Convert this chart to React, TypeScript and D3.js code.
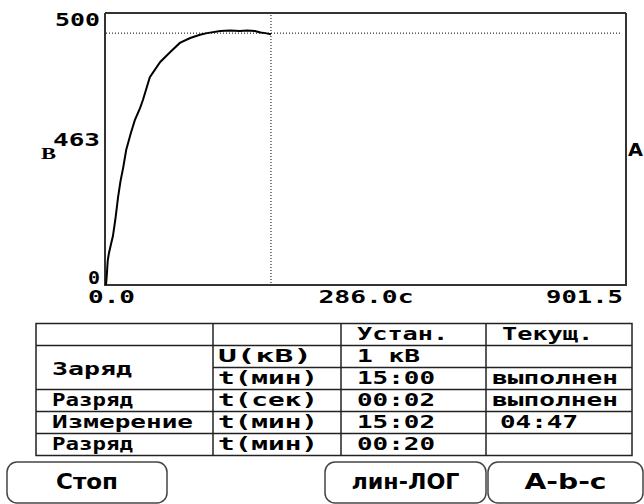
import React from "react";
import * as d3 from "d3";

// ---------- data ----------
const timeSec = [0, 1.5, 3, 5, 8, 12, 16, 21, 25, 30, 35, 43, 50, 59, 64, 76, 94, 111, 128, 146, 163, 175, 198, 215, 232, 245, 258, 268, 276, 286];
const voltage = [0, 20, 45, 58, 72, 90, 119, 162, 190, 217, 248, 279, 303, 325, 340, 382, 410, 428, 445, 454, 460, 463, 467, 468, 467, 468, 467, 464, 463, 461];

const timeDomain = [0, 901.5];
const voltDomain = [0, 500];
const cursorTime = 286.0;
const cursorVolt = 463;

const xTickLabels = ["0.0", "286.0c", "901.5"];
const yTickLabels = ["0", "463", "500"];
const leftUnit = "В";
const rightUnit = "А";

const headerRow = ["", "", "Устан.", "Текущ."];
const stageNames = ["Заряд", "Разряд", "Измерение", "Разряд"];
const stageRowSpans = [2, 1, 1, 1];
const paramUnits = ["U(кВ)", "t(мин)", "t(сек)", "t(мин)", "t(мин)"];
const setValues = ["1 кВ", "15:00", "00:02", "15:02", "00:20"];
const currentValues = ["", "выполнен", "выполнен", " 04:47", ""];
const buttonLabels = ["Стоп", "лин-ЛОГ", "A-b-c"];

// ---------- layout ----------
const W = 644;
const H = 504;
const plot = { left: 106, right: 626, top: 13, bottom: 285 };
const tableCols = [36, 213, 341, 486, 632];
const tableTop = 323.5;
const rowH = 22;
const charW = 15.6;
const monoFont = "'DejaVu Sans Mono', 'Liberation Mono', monospace";
const btnFont = "'DejaVu Sans Condensed', 'DejaVu Sans', sans-serif";
const buttonsX = [[7, 167], [325, 486], [488, 643]];
const buttonTop = 462;
const buttonBottom = 503;

function MonoText({ x, y, text, anchor = "start", size = 18, width }: any) {
  const len = width ?? text.length * charW;
  if (!text.trim()) return null;
  return (
    <text
      x={x}
      y={y}
      textAnchor={anchor}
      fontFamily={monoFont}
      fontWeight="bold"
      fontSize={size}
      textLength={len}
      lengthAdjust="spacingAndGlyphs"
      fill="#000"
      style={{ whiteSpace: "pre" }}
    >
      {text}
    </text>
  );
}

export default function App() {
  const x = d3.scaleLinear().domain(timeDomain).range([plot.left, plot.right]);
  const y = d3.scaleLinear().domain(voltDomain).range([plot.bottom, plot.top]);
  const pts = timeSec.map((t, i) => [t, voltage[i]] as [number, number]);
  const line = d3
    .line<[number, number]>()
    .x((d) => x(d[0]))
    .y((d) => y(d[1]))
    .curve(d3.curveLinear);

  const cx = x(cursorTime);
  const cy = y(cursorVolt);
  const midY = (plot.top + plot.bottom) / 2;

  const nRows = paramUnits.length + 1;
  const rowTops = d3.range(nRows + 1).map((i) => tableTop + i * rowH);
  const tableBottom = rowTops[nRows];

  const stageStarts: number[] = [];
  let acc = 0;
  stageRowSpans.forEach((s) => {
    stageStarts.push(acc);
    acc += s;
  });

  const colPad = [16, 5, 16, 6];

  return (
    <svg
      width={W}
      height={H}
      style={{ position: "absolute", left: 0, top: 0, background: "#fff" }}
    >
      <rect x={0} y={0} width={W} height={H} fill="#fff" />
      {/* plot frame */}
      <g stroke="#333" strokeWidth={2} fill="none">
        <line x1={plot.left - 1} y1={plot.top} x2={plot.right} y2={plot.top} />
        <line x1={plot.right} y1={plot.top} x2={plot.right} y2={plot.bottom} />
        <line x1={plot.left - 1} y1={plot.top} x2={plot.left - 1} y2={plot.bottom + 1} />
        <line x1={plot.left - 1} y1={plot.bottom} x2={plot.right + 1} y2={plot.bottom} />
      </g>
      {/* cursor lines */}
      <g stroke="#000" strokeWidth={1} strokeDasharray="1,2">
        <line x1={plot.left} y1={cy} x2={plot.right - 4} y2={cy} />
        <line x1={cx} y1={plot.top + 2} x2={cx} y2={plot.bottom - 1} />
      </g>
      {/* curve */}
      <path d={line(pts) ?? ""} fill="none" stroke="#000" strokeWidth={2} />

      {/* y labels */}
      <MonoText x={plot.left - 6} y={y(voltDomain[1]) + 13} text={yTickLabels[2]} anchor="end" width={45} />
      <MonoText x={plot.left - 6} y={midY - 3} text={yTickLabels[1]} anchor="end" width={47} />
      <MonoText x={plot.left - 6} y={y(voltDomain[0]) - 1} text={yTickLabels[0]} anchor="end" width={12} size={17} />
      <text x={41} y={159} fontFamily="'Liberation Serif', serif" fontWeight="bold" fontSize={17} fill="#000" textLength={15} lengthAdjust="spacingAndGlyphs">
        {leftUnit}
      </text>
      <text x={628} y={156} fontFamily="'DejaVu Sans', sans-serif" fontWeight="bold" fontSize={17} fill="#000" textLength={15} lengthAdjust="spacingAndGlyphs">
        {rightUnit}
      </text>

      {/* x labels */}
      <MonoText x={x(timeDomain[0]) - 18} y={303} text={xTickLabels[0]} width={47} size={17} />
      <MonoText x={(plot.left + plot.right) / 2} y={303} text={xTickLabels[1]} anchor="middle" width={95} size={17} />
      <MonoText x={x(timeDomain[1]) - 3} y={303} text={xTickLabels[2]} anchor="end" width={77} size={17} />

      {/* table grid */}
      <g stroke="#222" strokeWidth={1.5} fill="none">
        <rect x={tableCols[0]} y={tableTop} width={tableCols[4] - tableCols[0]} height={tableBottom - tableTop} />
        {tableCols.slice(1, 4).map((c, i) => (
          <line key={"c" + i} x1={c} y1={tableTop} x2={c} y2={tableBottom} />
        ))}
        {rowTops.slice(1, nRows).map((rt, i) => {
          let x1 = tableCols[0];
          if (i > 0 && !stageStarts.includes(i)) x1 = tableCols[1];
          return <line key={"r" + i} x1={x1} y1={rt} x2={tableCols[4]} y2={rt} />;
        })}
      </g>

      {/* header texts */}
      {headerRow.map((h, ci) => (
        <MonoText key={"h" + ci} x={tableCols[ci] + (ci === 3 ? 16 : colPad[ci])} y={tableTop + 16} text={h} width={h.length * 15.2} />
      ))}

      {/* stage names */}
      {stageNames.map((s, i) => {
        const r0 = stageStarts[i] + 1;
        const span = stageRowSpans[i];
        const top = rowTops[r0];
        const bottom = rowTops[r0 + span];
        const yy = span > 1 ? (top + bottom) / 2 + 7 : top + 16;
        const w = s === "Измерение" ? 141 : s === "Заряд" ? 80 : 81;
        return <MonoText key={"s" + i} x={tableCols[0] + colPad[0]} y={yy} text={s} width={w} />;
      })}

      {/* units */}
      {paramUnits.map((u, i) => (
        <MonoText key={"u" + i} x={tableCols[1] + colPad[1]} y={rowTops[i + 1] + 16} text={u} width={u.length === 5 ? 94 : 100} />
      ))}
      {/* set values */}
      {setValues.map((v, i) => (
        <MonoText key={"v" + i} x={tableCols[2] + colPad[2]} y={rowTops[i + 1] + 16} text={v} width={v.length === 4 ? 63 : 78} />
      ))}
      {/* current values */}
      {currentValues.map((v, i) => {
        const t = v.trim();
        const lead = v.length - v.trimStart().length;
        return (
          <MonoText key={"cv" + i} x={tableCols[3] + colPad[3] + lead * 8} y={rowTops[i + 1] + 16} text={t} width={t.length === 8 ? 126 : 78} />
        );
      })}

      {/* buttons */}
      {buttonLabels.map((b, i) => {
        const [bx0, bx1] = buttonsX[i];
        const widths = [62, 108, 82];
        return (
          <g key={"b" + i}>
            <rect
              x={bx0}
              y={buttonTop}
              width={bx1 - bx0}
              height={buttonBottom - buttonTop}
              rx={10}
              ry={10}
              fill="#fff"
              stroke="#444"
              strokeWidth={1.5}
            />
            <text
              x={(bx0 + bx1) / 2}
              y={489}
              textAnchor="middle"
              fontFamily={btnFont}
              fontWeight="bold"
              fontSize={22}
              textLength={widths[i]}
              lengthAdjust="spacingAndGlyphs"
              fill="#000"
            >
              {b}
            </text>
          </g>
        );
      })}
    </svg>
  );
}
